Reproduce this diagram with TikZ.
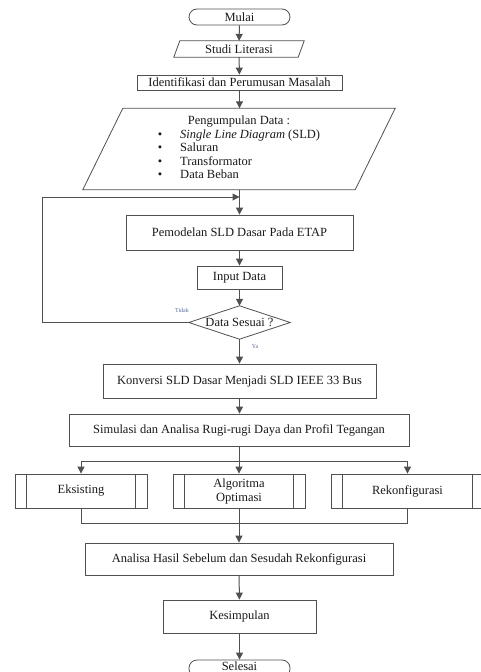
\documentclass[tikz,border=0pt]{standalone}
\usepackage{fontspec}
\setmainfont{Liberation Serif}
\usetikzlibrary{arrows.meta,calc}
\definecolor{edge}{HTML}{505050}
\definecolor{lbl}{HTML}{5A6A96}
\begin{document}
\begin{tikzpicture}[x=1pt,y=-1pt,
  every node/.style={font=\fontsize{12.5}{14}\selectfont, inner sep=0pt, text=black!90},
  box/.style={draw=edge, line width=0.8pt, rectangle},
  term/.style={draw=edge, line width=0.8pt, rounded corners=8pt},
  flat/.style={draw=none},
  conn/.style={draw=edge, line width=1pt},
  arr/.style={conn, -{Triangle[length=7pt,width=7pt]}},
  small/.style={font=\fontsize{6}{7}\selectfont, text=lbl}
]
\useasboundingbox (0,0) rectangle (481,672);

\node[term, minimum width=101, minimum height=16] (mulai) at (239.5,17) {Mulai};
\node[flat, minimum width=124, minimum height=16] (studi) at (239,49) {Studi Literasi};
\draw[edge, line width=0.8pt] ([xshift=3]studi.north west) -- ([xshift=3]studi.north east) -- ([xshift=-3]studi.south east) -- ([xshift=-3]studi.south west) -- cycle;
\node[box, minimum width=205, minimum height=15] (ident) at (239.5,82.5) {Identifikasi dan Perumusan Masalah};
\node[flat, minimum width=272, minimum height=81] (data) at (239,149) {%
  \begin{tabular}{@{}c@{\hspace{18pt}}l@{}}
  \multicolumn{2}{c}{Pengumpulan Data :}\\[-0.5pt]
  \textbullet & \textit{Single Line Diagram} (SLD)\\[-0.5pt]
  \textbullet & Saluran\\[-0.5pt]
  \textbullet & Transformator\\[-0.5pt]
  \textbullet & Data Beban
  \end{tabular}};
\draw[edge, line width=0.8pt] ([xshift=20]data.north west) -- ([xshift=20]data.north east) -- ([xshift=-20]data.south east) -- ([xshift=-20]data.south west) -- cycle;
\node[box, minimum width=227, minimum height=35] (model) at (239.5,232.5) {Pemodelan SLD Dasar Pada ETAP};
\node[box, minimum width=85, minimum height=23] (input) at (239.5,277.5) {Input Data};
\node[flat, minimum width=101, minimum height=33] (dec) at (239.5,322.5) {Data Sesuai ?};
\draw[edge, line width=0.8pt] (dec.west) -- (dec.north) -- (dec.east) -- (dec.south) -- cycle;
\node[box, minimum width=273, minimum height=34] (konv) at (239.5,381) {Konversi SLD Dasar Menjadi SLD IEEE 33 Bus};
\node[box, minimum width=340, minimum height=32] (simu) at (239,430) {Simulasi dan Analisa Rugi-rugi Daya dan Profil Tegangan};
\node[box, minimum width=132, minimum height=34] (eks) at (81,491) {Eksisting};
\node[box, minimum width=132, minimum height=34, align=center] (algo) at (239,491) {Algoritma\\Optimasi};
\node[box, minimum width=153, minimum height=34] (rek) at (407.5,491) {Rekonfigurasi};
\foreach \n in {eks,algo,rek}{
  \draw[edge, line width=0.8pt] ([xshift=12]\n.north west) -- ([xshift=12]\n.south west);
  \draw[edge, line width=0.8pt] ([xshift=-12]\n.north east) -- ([xshift=-12]\n.south east);
}
\node[box, minimum width=308, minimum height=32] (anal) at (239,559) {Analisa Hasil Sebelum dan Sesudah Rekonfigurasi};
\node[box, minimum width=153, minimum height=33] (kes) at (239.5,616.5) {Kesimpulan};
\node[term, minimum width=101, minimum height=17, text depth=0pt] (sel) at (239.5,668.5) {\raisebox{4.5pt}{Selesai}};

\node[small] (tidak) at (182,310) {Tidak};
\node[small] (ya) at (255,347) {Ya};

\coordinate (join) at (239.5,197);
\coordinate (loopA) at (42,322.5);
\coordinate (loopB) at (42,197);
\coordinate (split) at (239,461);
\coordinate (splitL) at (81,461);
\coordinate (splitR) at (407.5,461);
\coordinate (mergeL) at (81,523);
\coordinate (mergeR) at (407.5,523);

\draw[arr] (mulai) -- (studi);
\draw[arr] (studi) -- (ident);
\draw[arr] (ident) -- (data.north -| ident.south);
\draw[arr] (data.south -| model.north) -- (model);
\draw[arr] (model) -- (input);
\draw[arr] (input) -- (dec.north);
\draw[arr] (dec.south) -- (konv);
\draw[arr] (dec.west) -- (loopA) -- (loopB) -- (join);
\draw[arr] (konv) -- (simu.north -| konv.south);
\draw[conn] (simu.south -| split) -- (split);
\draw[arr] (split) -- (splitL) -- (eks.north);
\draw[arr] (split) -- (splitR) -- (rek.north);
\draw[arr] (split) -- (algo.north);
\draw[conn] (eks.south) -- (mergeL) -- (mergeR) -- (rek.south);
\draw[arr] (algo.south) -- (anal.north);
\draw[arr] (anal) -- (kes);
\draw[arr] (kes) -- (sel.north);
\end{tikzpicture}
\end{document}
